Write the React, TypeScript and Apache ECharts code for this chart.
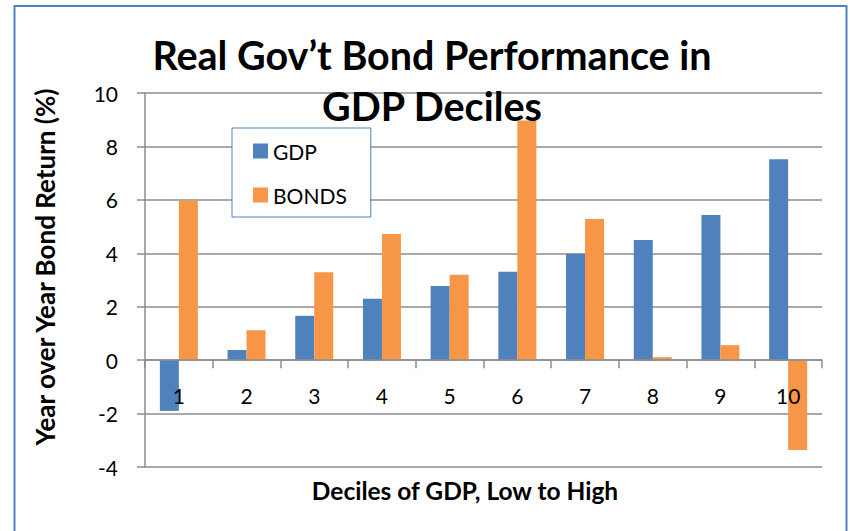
import React, { useEffect, useRef } from "react";
import * as echarts from "echarts";

const categories = ["1", "2", "3", "4", "5", "6", "7", "8", "9", "10"];
const gdpValues = [-1.9, 0.38, 1.66, 2.3, 2.78, 3.31, 3.98, 4.5, 5.43, 7.52];
const bondValues = [5.98, 1.12, 3.29, 4.72, 3.2, 8.97, 5.28, 0.11, 0.56, -3.36];
const yTicks = { min: -4, max: 10, interval: 2 };

const titleLine1 = "Real Gov’t Bond Performance in";
const titleLine2 = "GDP Deciles";
const yTitle = "Year over Year Bond Return (%)";
const xTitle = "Deciles of GDP, Low to High";

const FONT = "Lato, 'Open Sans', sans-serif";
const GRID_COLOR = "#8c8c8c";

export default function App() {
  const ref = useRef<HTMLDivElement>(null);
  useEffect(() => {
    if (!ref.current) return;
    const chart = echarts.init(ref.current, undefined, { renderer: "svg" });
    chart.setOption({
      animation: false,
      backgroundColor: "#ffffff",
      grid: { left: 145, right: 28, top: 93, bottom: 64, containLabel: false },
      legend: {
        orient: "vertical",
        left: 232,
        top: 128,
        data: ["GDP", "BONDS"],
        backgroundColor: "#ffffff",
        borderColor: "#4f81bd",
        borderWidth: 1,
        padding: [11, 24, 10, 21],
        itemGap: 20,
        itemWidth: 15,
        itemHeight: 15,
        icon: "rect",
        z: 10,
        textStyle: { fontFamily: FONT, fontSize: 21, color: "#000", lineHeight: 24 },
      },
      xAxis: {
        type: "category",
        data: categories,
        position: "bottom",
        offset: 0,
        axisLine: {
          show: true,
          onZero: true,
          lineStyle: { color: GRID_COLOR, width: 1.5 },
        },
        axisTick: { show: true, length: 8, lineStyle: { color: GRID_COLOR, width: 1.5 } },
        axisLabel: { fontFamily: FONT, fontSize: 21, color: "#000", margin: 25 },
        splitLine: { show: false },
        z: 5,
      },
      yAxis: {
        type: "value",
        min: yTicks.min,
        max: yTicks.max,
        interval: yTicks.interval,
        axisLine: { show: true, lineStyle: { color: GRID_COLOR, width: 1.5 } },
        axisTick: { show: true, length: 8, lineStyle: { color: GRID_COLOR, width: 1.5 } },
        axisLabel: { fontFamily: FONT, fontSize: 21, color: "#000", margin: 27 },
        splitLine: { show: true, lineStyle: { color: GRID_COLOR, width: 1.5 } },
      },
      series: [
        {
          name: "GDP",
          type: "bar",
          data: gdpValues,
          barWidth: 19,
          barGap: "0%",
          itemStyle: { color: "#4f81bd" },
        },
        {
          name: "BONDS",
          type: "bar",
          data: bondValues,
          barWidth: 19,
          barGap: "0%",
          itemStyle: { color: "#f79646" },
        },
      ],
      graphic: [
        {
          type: "rect",
          shape: { x: 14.5, y: 6, width: 832, height: 560 },
          style: { fill: "none", stroke: "#4f81bd", lineWidth: 2 },
          z: 0,
          silent: true,
        },
        {
          type: "text",
          x: 432,
          y: 54,
          z: 20,
          style: {
            text: titleLine1,
            fill: "#000",
            font: `bold 39.5px ${FONT}`,
            align: "center",
            verticalAlign: "middle",
          },
        },
        {
          type: "text",
          x: 432,
          y: 105,
          z: 20,
          style: {
            text: titleLine2,
            fill: "#000",
            font: `bold 39.5px ${FONT}`,
            align: "center",
            verticalAlign: "middle",
          },
        },
        {
          type: "text",
          x: 45,
          y: 267,
          rotation: Math.PI / 2,
          style: {
            text: yTitle,
            fill: "#000",
            font: `bold 26px ${FONT}`,
            align: "center",
            verticalAlign: "middle",
          },
        },
        {
          type: "text",
          x: 465,
          y: 490,
          style: {
            text: xTitle,
            fill: "#000",
            font: `bold 24.5px ${FONT}`,
            align: "center",
            verticalAlign: "middle",
          },
        },
      ],
    });
    // Move the category axis to the value-axis zero line using the library's own scale
    const yZero = chart.convertToPixel({ yAxisIndex: 0 }, 0) as number;
    const yBottom = chart.convertToPixel({ yAxisIndex: 0 }, yTicks.min) as number;
    if (typeof yZero === "number" && typeof yBottom === "number") {
      chart.setOption({ xAxis: { offset: -(yBottom - yZero) } });
    }
    return () => chart.dispose();
  }, []);
  return (
    <div
      ref={ref}
      style={{ position: "fixed", left: 0, top: 0, width: 850, height: 531 }}
    />
  );
}
